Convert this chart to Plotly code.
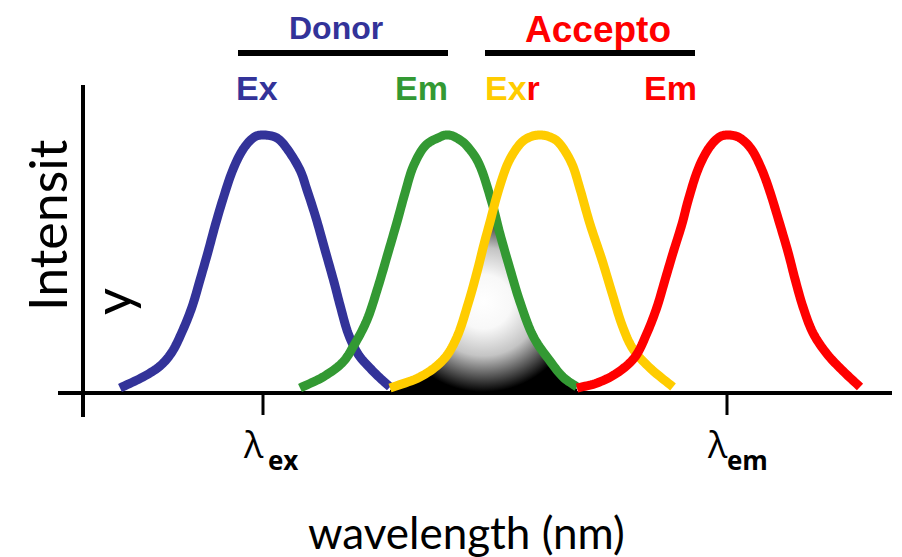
import numpy as np
import plotly.graph_objects as go

# ---- data (x = wavelength position, h = intensity above baseline) ----
blue_x = [120, 143, 160, 172, 182, 192, 200, 208, 215, 223, 232, 242, 253, 263,
          277, 288, 300, 307, 316, 325, 334, 340, 348, 358, 370, 380, 390]
blue_h = [4, 15, 26, 40, 60, 85, 112, 140, 166, 193, 220, 241, 254, 257,
          254, 242, 222, 202, 174, 142, 110, 87, 59, 38, 24, 14, 5]

green_x = [300, 323, 342, 353, 367, 378, 388, 397, 405, 413, 425, 440, 447,
           455, 467, 480, 492, 500, 510, 520, 533, 550, 563, 577]
green_h = [4, 15, 29, 45, 72, 105, 139, 170, 199, 225, 246, 255, 257,
           255, 246, 226, 189, 158, 123, 90, 56, 31, 15, 5]

yellow_x = [390, 420, 443, 457, 468, 477, 484, 490, 498, 508, 520, 530, 540,
            550, 560, 572, 580, 590, 602, 612, 622, 633, 650, 673]
yellow_h = [4, 15, 32, 55, 88, 120, 148, 170, 200, 229, 248, 255, 257,
            255, 248, 228, 203, 168, 132, 99, 67, 43, 24, 5]

red_x = [577, 597, 617, 635, 647, 657, 665, 673, 682, 688, 697, 707, 718, 728,
         740, 752, 762, 770, 778, 788, 795, 803, 813, 827, 843, 860]
red_h = [4, 9, 19, 35, 59, 85, 112, 139, 168, 191, 220, 241, 254, 257,
         254, 242, 222, 200, 174, 140, 113, 85, 59, 38, 21, 5]

tick_pos = [263, 727]
tick_main = ["λ", "λ"]
tick_sub = ["ex", "em"]

group_labels = ["Donor", "Accepto"]
peak_labels = ["Ex", "Em", "Ex", "Em"]

BLUE = "#333399"
GREEN = "#339933"
YELLOW = "#FFCC00"
RED = "#FF0000"


def catmull(xs, ys, n=10):
    P = np.column_stack([xs, ys]).astype(float)
    P = np.vstack([2 * P[0] - P[1], P, 2 * P[-1] - P[-2]])
    out = []
    for i in range(1, len(P) - 2):
        p0, p1, p2, p3 = P[i - 1], P[i], P[i + 1], P[i + 2]
        t = np.linspace(0, 1, n, endpoint=False)[:, None]
        pts = 0.5 * ((2 * p1) + (-p0 + p2) * t + (2 * p0 - 5 * p1 + 4 * p2 - p3) * t ** 2
                     + (-p0 + 3 * p1 - 3 * p2 + p3) * t ** 3)
        out.append(pts)
    out.append(P[-2][None, :])
    A = np.vstack(out)
    return A[:, 0], A[:, 1]


bx, bh = catmull(blue_x, blue_h)
gx, gh = catmull(green_x, green_h)
yx, yh = catmull(yellow_x, yellow_h)
rx, rh = catmull(red_x, red_h)

# overlap region (min of green & yellow)
ox = np.linspace(yellow_x[0], green_x[-1], 300)
oh = np.minimum(np.interp(ox, gx, gh), np.interp(ox, yx, yh))
oh = np.clip(oh - 2, 0, None)
fill_x = np.concatenate([ox, ox[::-1]])
fill_h = np.concatenate([oh, np.zeros_like(ox)])

fig = go.Figure()

fig.add_trace(go.Scatter(
    x=fill_x, y=fill_h, mode="none", fill="toself",
    fillgradient=dict(type="radial",
                      colorscale=[[0, "#ffffff"], [0.3, "#f8f8f8"], [0.6, "#c4c4c4"],
                                  [0.85, "#4a4a4a"], [1, "#000000"]]),
    hoverinfo="skip", showlegend=False))

for xs, hs, col in [(bx, bh, BLUE), (gx, gh, GREEN), (yx, yh, YELLOW), (rx, rh, RED)]:
    fig.add_trace(go.Scatter(x=xs, y=hs, mode="lines",
                             line=dict(color=col, width=9, simplify=False),
                             hoverinfo="skip", showlegend=False))

shapes = []
# axes
shapes.append(dict(type="line", x0=58, x1=892, y0=-1, y1=-1, xref="x", yref="y",
                   line=dict(color="black", width=4), layer="below"))
shapes.append(dict(type="line", x0=83, x1=83, y0=-25, y1=307, xref="x", yref="y",
                   line=dict(color="black", width=4), layer="below"))
for tp in tick_pos:
    shapes.append(dict(type="line", x0=tp, x1=tp, y0=-1, y1=-23, xref="x", yref="y",
                       line=dict(color="black", width=3)))
# group bars
shapes.append(dict(type="line", x0=238, x1=448, y0=339, y1=339, xref="x", yref="y",
                   line=dict(color="black", width=6)))
shapes.append(dict(type="line", x0=485, x1=695, y0=339, y1=339, xref="x", yref="y",
                   line=dict(color="black", width=6)))

ann = []
BF = "Liberation Sans"
ann.append(dict(x=336, y=384, text="<b>%s</b>" % group_labels[0], yanchor="top",
                font=dict(family=BF, size=32, color=BLUE)))
ann.append(dict(x=598, y=363, text="<b>%s</b>" % group_labels[1],
                font=dict(family=BF, size=37, color=RED)))
ann.append(dict(x=257, y=304, text="<b>%s</b>" % peak_labels[0],
                font=dict(family=BF, size=34, color=BLUE)))
ann.append(dict(x=421, y=304, text="<b>%s</b>" % peak_labels[1],
                font=dict(family=BF, size=34, color=GREEN)))
ann.append(dict(x=512, y=304,
                text="<b><span style='color:%s'>%s</span><span style='color:%s'>r</span></b>"
                     % (YELLOW, peak_labels[2], RED),
                font=dict(family=BF, size=34, color=YELLOW)))
ann.append(dict(x=670, y=304, text="<b>%s</b>" % peak_labels[3],
                font=dict(family=BF, size=34, color=RED)))

for tp, tm, ts in zip(tick_pos, tick_main, tick_sub):
    ann.append(dict(x=tp - 10, y=-52, text=tm, font=dict(family="Open Sans", size=36, color="black")))
    ann.append(dict(x=tp + 20, y=-68, text="<b>%s</b>" % ts,
                    font=dict(family="Open Sans", size=26, color="black")))

ann.append(dict(x=466, y=-140, text="wavelength (nm)",
                font=dict(family="Lato", size=44, color="black")))
ann.append(dict(x=47, y=167, text="Intensit", textangle=-90,
                font=dict(family="Lato", size=52, color="black")))
ann.append(dict(x=112, y=90, text="y", textangle=-90,
                font=dict(family="Lato", size=52, color="black")))

for a in ann:
    a.setdefault("yanchor", "middle")
    a.update(xref="x", yref="y", showarrow=False, xanchor="center")

# page body has an 8px margin: size the figure so data units equal page pixels
fig.update_layout(
    width=894, height=549,
    margin=dict(l=0, r=0, t=0, b=0),
    paper_bgcolor="white", plot_bgcolor="white",
    xaxis=dict(range=[8, 902], visible=False, fixedrange=True),
    yaxis=dict(range=[-165, 384], visible=False, fixedrange=True),
    shapes=shapes, annotations=ann, showlegend=False,
)

fig.write_html("out.html")
